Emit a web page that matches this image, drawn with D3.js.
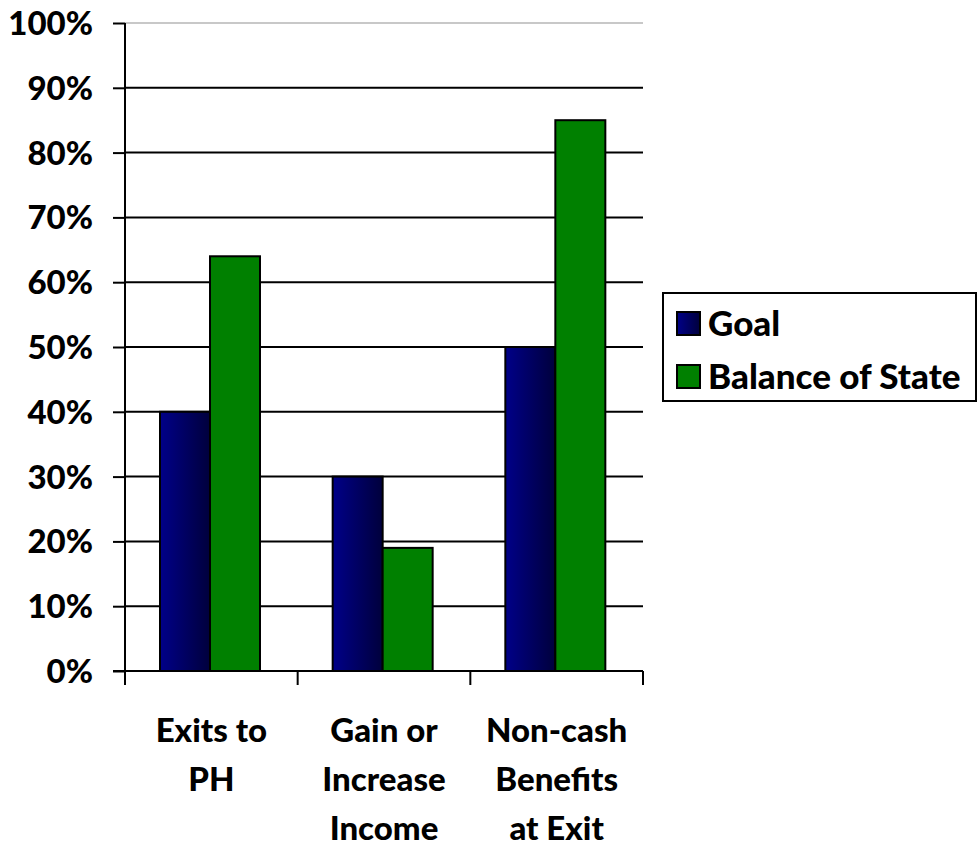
<!DOCTYPE html>
<html><head><meta charset="utf-8">
<script src="https://cdn.jsdelivr.net/npm/d3@7"></script>
<style>body{margin:0;background:#fff}svg text{font-family:Lato,"Open Sans",sans-serif;font-weight:900;fill:#000}</style>
</head><body>
<svg id="c" width="977" height="848"></svg>
<script>
const categories = [["Exits to","PH"],["Gain or","Increase","Income"],["Non-cash","Benefits","at Exit"]];
const seriesNames = ["Goal","Balance of State"];
const goal = [40,30,50];
const balance = [64,19,85];
const yTicks = [0,10,20,30,40,50,60,70,80,90,100];

const svg = d3.select("#c");
const defs = svg.append("defs");
const g1 = defs.append("linearGradient").attr("id","gGoal").attr("x1","0").attr("x2","1").attr("y1","0").attr("y2","0");
g1.append("stop").attr("offset","0").attr("stop-color","#000088");
g1.append("stop").attr("offset","1").attr("stop-color","#00003c");

const L=125,R=643,T=23,B=671;
const x = d3.scaleBand().domain(d3.range(categories.length)).range([L,R]).paddingInner(0).paddingOuter(0);
const y = d3.scaleLinear().domain([0,100]).range([B,T]);
const colors = ["url(#gGoal)","#008000"];
const series = [goal,balance];

// gridlines
svg.append("g").selectAll("line").data(yTicks.filter(t=>t>0)).join("line")
  .attr("x1",L).attr("x2",R).attr("y1",d=>y(d)).attr("y2",d=>y(d))
  .attr("stroke",d=>d===100?"#c8c8c8":"#000").attr("stroke-width",2);

// bars
const bw = 50, off = 35;
series.forEach((s,si)=>{
  svg.append("g").selectAll("rect").data(s).join("rect")
    .attr("x",(d,i)=>x(i)+off+si*bw).attr("width",bw)
    .attr("y",d=>y(d)).attr("height",d=>B-y(d))
    .attr("fill",colors[si]).attr("stroke","#000").attr("stroke-width",2);
});

// y axis
const ya = svg.append("g").attr("transform",`translate(${L},0)`)
  .call(d3.axisLeft(y).tickValues(yTicks).tickFormat(d=>d+"%").tickSize(12).tickPadding(20));
ya.select(".domain").attr("stroke","#000").attr("stroke-width",2).attr("d",`M0,${T}V${B}`);
ya.selectAll(".tick line").attr("stroke","#000").attr("stroke-width",2);
ya.selectAll(".tick text").style("font-size","33px").attr("dy","0.35em");

// x axis
const xa = svg.append("g").attr("transform",`translate(0,${B})`);
xa.append("line").attr("x1",L-12).attr("x2",R).attr("stroke","#000").attr("stroke-width",2);
const bounds = d3.range(categories.length+1).map(i=> i<categories.length ? x(i) : R);
xa.selectAll("line.t").data(bounds).join("line").attr("class","t")
  .attr("x1",d=>d).attr("x2",d=>d).attr("y1",0).attr("y2",14).attr("stroke","#000").attr("stroke-width",2);
categories.forEach((lines,i)=>{
  const t = svg.append("text").attr("text-anchor","middle").style("font-size","33px");
  lines.forEach((ln,j)=>{
    t.append("tspan").attr("x",x(i)+x.bandwidth()/2).attr("y",742+j*49).text(ln);
  });
});

// legend
const lg = svg.append("g");
lg.append("rect").attr("x",663).attr("y",293).attr("width",313).attr("height",108)
  .attr("fill","#fff").attr("stroke","#000").attr("stroke-width",2);
seriesNames.forEach((n,i)=>{
  const yy = 312 + i*53;
  lg.append("rect").attr("x",677).attr("y",yy).attr("width",23).attr("height",23)
    .attr("fill",colors[i]).attr("stroke","#000").attr("stroke-width",2);
  lg.append("text").attr("x",708).attr("y",yy+12).attr("dy","0.35em").style("font-size","35px").text(n);
});
</script>
</body></html>
